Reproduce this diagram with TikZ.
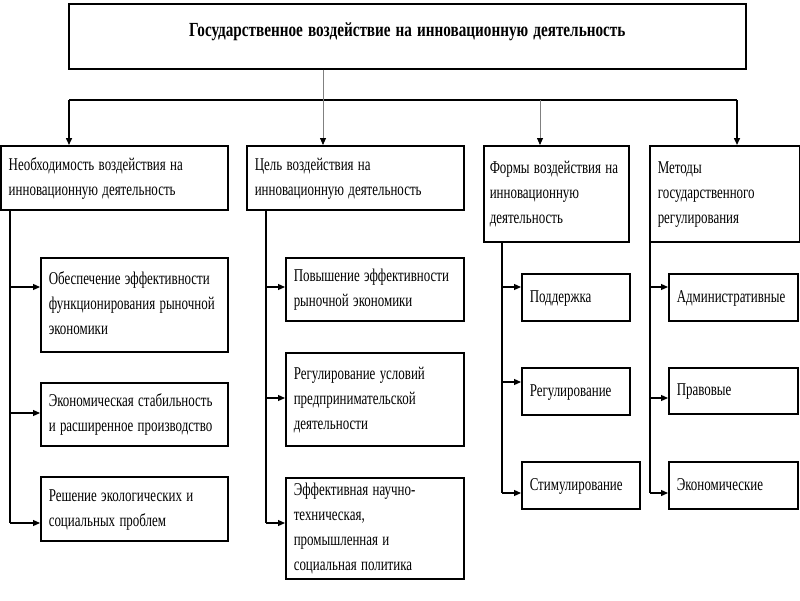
\documentclass[tikz,border=0pt]{standalone}
\usepackage{fontspec}
\usepackage{graphicx}
\setmainfont{Liberation Serif}
\usetikzlibrary{arrows.meta}
\newcommand\myboxfont{\fontsize{18}{25}\selectfont}
\newcommand\mytitlefont{\fontsize{20}{24}\selectfont\bfseries}
\newcommand\tx[1]{\scalebox{0.72}[1]{\begin{tabular}{@{}l@{}}#1\end{tabular}}}
\tikzset{
  bx/.style={draw=black, line width=1.5pt, anchor=north west, align=left,
    inner xsep=8pt, inner ysep=0pt, font=\myboxfont},
  ln/.style={line width=1.2pt, draw=black},
  arr/.style={ln, -{Triangle[length=7pt,width=6pt]}},
  garr/.style={line width=0.8pt, draw=gray, -{Triangle[length=7pt,width=6pt,fill=black,color=black]}},
}
\begin{document}
\begin{tikzpicture}[x=1pt,y=-1pt]
\useasboundingbox (0,0) rectangle (800,600);
% top
\node[bx, align=center, minimum width=677pt, minimum height=65pt, text width=661pt, text depth=14pt,
  font=\mytitlefont] (top) at (68,3) {\scalebox{0.76}[1]{Государственное воздействие на инновационную деятельность}};
% columns
\node[bx, minimum width=227pt, minimum height=64pt, text width=211pt] (c1) at (0,145)
  {\tx{Необходимость воздействия на\\инновационную деятельность}};
\node[bx, minimum width=217pt, minimum height=64pt, text width=201pt] (c2) at (246,145)
  {\tx{Цель воздействия на\\инновационную деятельность}};
\node[bx, minimum width=145pt, minimum height=96pt, text width=133pt, inner xsep=6pt] (c3) at (483,145)
  {\tx{Формы воздействия на\\инновационную\\деятельность}};
\node[bx, minimum width=150pt, minimum height=96pt, text width=134pt] (c4) at (649,145)
  {\tx{Методы\\государственного\\регулирования}};
% column 1 children
\node[bx, minimum width=187pt, minimum height=94pt, text width=171pt] (a1) at (40,257)
  {\tx{Обеспечение эффективности\\функционирования рыночной\\экономики}};
\node[bx, minimum width=187pt, minimum height=63pt, text width=171pt] (a2) at (40,382)
  {\tx{Экономическая стабильность\\и расширенное производство}};
\node[bx, minimum width=187pt, minimum height=64pt, text width=171pt] (a3) at (40,476)
  {\tx{Решение экологических и\\социальных проблем}};
% column 2 children
\node[bx, minimum width=178pt, minimum height=63pt, text width=162pt] (b1) at (285,257)
  {\tx{Повышение эффективности\\рыночной экономики}};
\node[bx, minimum width=178pt, minimum height=93pt, text width=162pt] (b2) at (285,352)
  {\tx{Регулирование условий\\предпринимательской\\деятельности}};
\node[bx, minimum width=178pt, minimum height=101pt, text width=162pt] (b3) at (285,477)
  {\tx{Эффективная научно-\\техническая,\\промышленная и\\социальная политика}};
% column 3 children
\node[bx, minimum width=108pt, minimum height=47pt, text width=92pt] (d1) at (521,273) {\tx{Поддержка}};
\node[bx, minimum width=108pt, minimum height=47pt, text width=92pt] (d2) at (521,367) {\tx{Регулирование}};
\node[bx, minimum width=118pt, minimum height=47pt, text width=102pt] (d3) at (521,461) {\tx{Стимулирование}};
% column 4 children
\node[bx, minimum width=129pt, minimum height=47pt, text width=113pt] (e1) at (668,273) {\tx{Административные}};
\node[bx, minimum width=129pt, minimum height=46pt, text width=113pt] (e2) at (668,367) {\tx{Правовые}};
\node[bx, minimum width=129pt, minimum height=47pt, text width=113pt] (e3) at (668,461) {\tx{Экономические}};
% bar
\coordinate (k1) at (69,100);
\coordinate (k2) at (323,100);
\coordinate (k3) at (540,100);
\coordinate (k4) at (737,100);
\draw[ln, line width=1.6pt] (k1) -- (k4);
\draw[arr, line width=1.5pt] (k1) -- (k1 |- c1.north);
\draw[arr, line width=1.5pt] (k4) -- (k4 |- c4.north);
\draw[garr] (k2 |- top.south) -- (k2 |- c2.north);
\draw[garr] (k3) -- (k3 |- c3.north);
% trunks
\coordinate (ta1) at (10,287);
\coordinate (ta2) at (10,413);
\coordinate (ta3) at (10,523);
\draw[ln] (ta1 |- c1.south) -- (ta3);
\draw[arr] (ta1) -- (ta1 -| a1.west);
\draw[arr] (ta2) -- (ta2 -| a2.west);
\draw[arr] (ta3) -- (ta3 -| a3.west);
\coordinate (tb1) at (266,287);
\coordinate (tb2) at (266,398);
\coordinate (tb3) at (266,523);
\draw[ln] (tb1 |- c2.south) -- (tb3);
\draw[arr] (tb1) -- (tb1 -| b1.west);
\draw[arr] (tb2) -- (tb2 -| b2.west);
\draw[arr] (tb3) -- (tb3 -| b3.west);
\coordinate (td1) at (502,287);
\coordinate (td2) at (502,382);
\coordinate (td3) at (502,493);
\draw[ln] (td1 |- c3.south) -- (td3);
\draw[arr] (td1) -- (td1 -| d1.west);
\draw[arr] (td2) -- (td2 -| d2.west);
\draw[arr] (td3) -- (td3 -| d3.west);
\coordinate (te1) at (650,287);
\coordinate (te2) at (650,398);
\coordinate (te3) at (650,493);
\draw[ln] (te1 |- c4.south) -- (te3);
\draw[arr] (te1) -- (te1 -| e1.west);
\draw[arr] (te2) -- (te2 -| e2.west);
\draw[arr] (te3) -- (te3 -| e3.west);
\end{tikzpicture}
\end{document}
